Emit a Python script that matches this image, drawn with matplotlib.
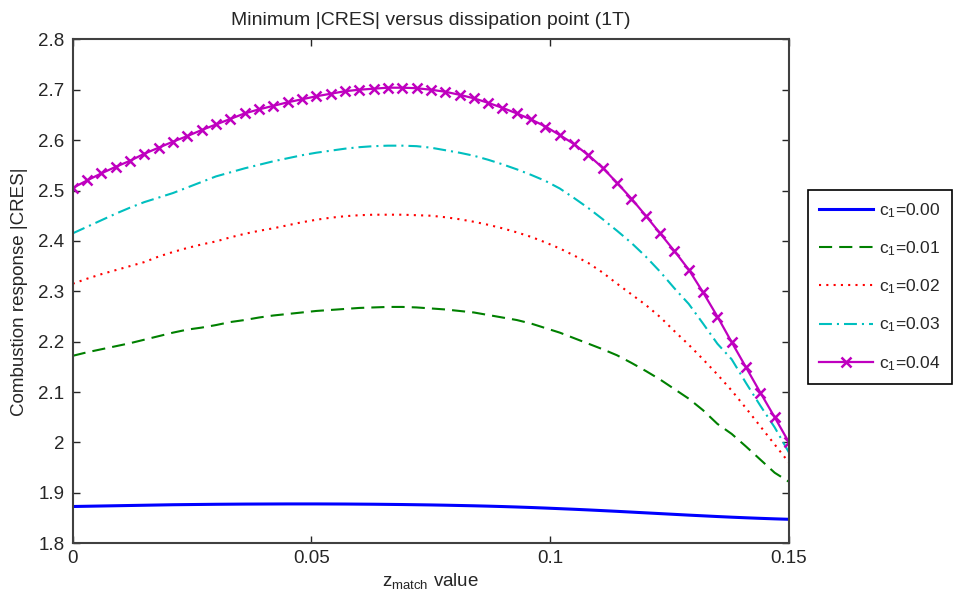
import numpy as np
import matplotlib
matplotlib.use('Agg')
import matplotlib.pyplot as plt

plt.rcParams['font.family'] = ['Liberation Sans', 'DejaVu Sans']
plt.rcParams['mathtext.fontset'] = 'custom'
plt.rcParams['mathtext.rm'] = 'Liberation Sans'
plt.rcParams['mathtext.it'] = 'Liberation Sans'

# z_match grid (0 .. 0.15, step 0.003)
z = np.arange(51) * 0.003

cres_000 = [1.8730, 1.8735, 1.8740, 1.8745, 1.8750, 1.8755, 1.8760, 1.8765, 1.8768, 1.8771,
            1.8774, 1.8776, 1.8778, 1.8779, 1.8780, 1.8781, 1.8781, 1.8781, 1.8780, 1.8779,
            1.8777, 1.8775, 1.8772, 1.8769, 1.8765, 1.8761, 1.8756, 1.8750, 1.8744, 1.8737,
            1.8729, 1.8720, 1.8710, 1.8699, 1.8687, 1.8675, 1.8662, 1.8648, 1.8634, 1.8619,
            1.8604, 1.8589, 1.8574, 1.8559, 1.8545, 1.8531, 1.8518, 1.8506, 1.8495, 1.8485,
            1.8476]

cres_001 = [2.172, 2.179, 2.185, 2.191, 2.197, 2.204, 2.211, 2.218, 2.224, 2.228,
            2.233, 2.239, 2.243, 2.248, 2.252, 2.255, 2.258, 2.261, 2.263, 2.265,
            2.267, 2.268, 2.269, 2.269, 2.268, 2.266, 2.264, 2.261, 2.258, 2.253,
            2.248, 2.243, 2.236, 2.227, 2.218, 2.207, 2.196, 2.185, 2.173, 2.158,
            2.142, 2.125, 2.106, 2.087, 2.064, 2.037, 2.017, 1.992, 1.966, 1.940,
            1.922]

cres_002 = [2.315, 2.325, 2.334, 2.342, 2.350, 2.358, 2.369, 2.378, 2.386, 2.393,
            2.399, 2.407, 2.414, 2.420, 2.425, 2.431, 2.437, 2.442, 2.446, 2.449,
            2.451, 2.452, 2.452, 2.452, 2.451, 2.450, 2.447, 2.443, 2.438, 2.432,
            2.425, 2.417, 2.408, 2.397, 2.385, 2.371, 2.356, 2.337, 2.315, 2.294,
            2.273, 2.249, 2.221, 2.194, 2.165, 2.135, 2.103, 2.068, 2.032, 1.996,
            1.960]

cres_003 = [2.415, 2.428, 2.441, 2.454, 2.466, 2.477, 2.486, 2.495, 2.506, 2.517,
            2.528, 2.536, 2.544, 2.551, 2.558, 2.564, 2.570, 2.575, 2.579, 2.583,
            2.586, 2.588, 2.589, 2.589, 2.588, 2.585, 2.580, 2.575, 2.569, 2.561,
            2.552, 2.542, 2.531, 2.519, 2.504, 2.485, 2.465, 2.443, 2.420, 2.396,
            2.369, 2.339, 2.306, 2.275, 2.236, 2.196, 2.165, 2.118, 2.073, 2.030,
            1.980]

cres_004 = [2.505, 2.520, 2.534, 2.547, 2.559, 2.573, 2.585, 2.597, 2.608, 2.620,
            2.631, 2.642, 2.653, 2.661, 2.668, 2.675, 2.681, 2.687, 2.692, 2.697,
            2.700, 2.702, 2.704, 2.704, 2.703, 2.700, 2.696, 2.690, 2.683, 2.674,
            2.664, 2.653, 2.641, 2.627, 2.610, 2.592, 2.570, 2.545, 2.515, 2.484,
            2.450, 2.415, 2.380, 2.343, 2.298, 2.250, 2.199, 2.149, 2.099, 2.050,
            2.000]

labels = ['c$_1$=0.00', 'c$_1$=0.01', 'c$_1$=0.02', 'c$_1$=0.03', 'c$_1$=0.04']
xticks = [0, 0.05, 0.1, 0.15]
xticklabels = ['0', '0.05', '0.1', '0.15']
yticks = [1.8, 1.9, 2.0, 2.1, 2.2, 2.3, 2.4, 2.5, 2.6, 2.7, 2.8]
yticklabels = ['1.8', '1.9', '2', '2.1', '2.2', '2.3', '2.4', '2.5', '2.6', '2.7', '2.8']

fs = 13.5

fig = plt.figure(figsize=(9.58, 6.05), dpi=100)
ax = fig.add_axes([0.0759, 0.102, 0.7477, 0.833])

ax.plot(z, cres_000, color='#0000ff', lw=2.2, label=labels[0])
ax.plot(z, cres_001, color='#008000', lw=1.5, dashes=(6.3, 3.4), label=labels[1])
ax.plot(z, cres_002, color='#ff0000', lw=1.5, dashes=(1, 2.5), label=labels[2])
ax.plot(z, cres_003, color='#00bfbf', lw=1.5, dashes=(6.2, 2.4, 1, 2.4), label=labels[3])
ax.plot(z, cres_004, color='#bf00bf', lw=1.6, marker='x', ms=6.5, mew=1.8, label=labels[4])

ax.set_xlim(0, 0.15)
ax.set_ylim(1.8, 2.8)
ax.set_xticks(xticks)
ax.set_xticklabels(xticklabels)
ax.set_yticks(yticks)
ax.set_yticklabels(yticklabels)
ax.tick_params(direction='in', length=5, width=1, colors='#262626', labelsize=fs,
               top=True, right=True)
ax.tick_params(axis='x', pad=5)
ax.tick_params(axis='y', pad=6)
for s in ax.spines.values():
    s.set_color('#404040')
    s.set_linewidth(1.5)

ax.set_title('Minimum |CRES| versus dissipation point (1T)', fontsize=14, pad=10, color='#262626')
ax.set_xlabel('z$_{match}$ value', fontsize=fs, color='#262626', labelpad=3)
ax.set_ylabel('Combustion response |CRES|', fontsize=fs, color='#262626', labelpad=7)

leg = ax.legend(loc='upper left', bbox_to_anchor=(0.843, 0.686), bbox_transform=fig.transFigure,
                fontsize=12.5, frameon=True, fancybox=False, framealpha=1,
                edgecolor='black', handlelength=3.1, handletextpad=0.35,
                labelspacing=1.12, borderpad=0.65, borderaxespad=0)
leg.get_frame().set_linewidth(1.2)
for t in leg.get_texts():
    t.set_color('#262626')

fig.savefig('out.png', dpi=100)
